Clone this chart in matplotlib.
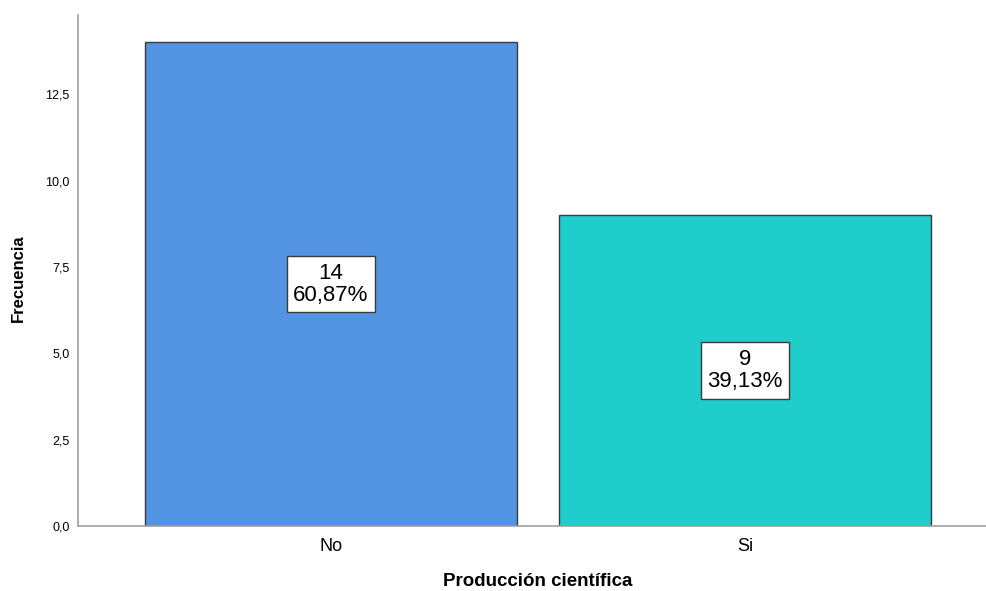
import matplotlib
matplotlib.use("Agg")
import matplotlib.pyplot as plt

plt.rcParams["font.family"] = ["Liberation Sans", "DejaVu Sans"]

categories = ["No", "Si"]
counts = [14, 9]
percents = ["60,87%", "39,13%"]
bar_colors = ["#5294e2", "#1fcdcb"]
yticks = [0, 2.5, 5, 7.5, 10, 12.5]
ytick_labels = ["0,0", "2,5", "5,0", "7,5", "10,0", "12,5"]

fig = plt.figure(figsize=(9.87, 5.91), dpi=100)
ax = fig.add_axes([0.079, 0.110, 0.920, 0.8646])

x = list(range(len(categories)))
ax.bar(x, counts, width=0.9, color=bar_colors, edgecolor="#3a3a3a", linewidth=1.0)

for xi, c, p in zip(x, counts, percents):
    ax.text(xi, c / 2, f"{c}\n{p}", ha="center", va="center", fontsize=16,
            linespacing=1.05,
            bbox=dict(boxstyle="square,pad=0.3", facecolor="white",
                      edgecolor="#3a3a3a", linewidth=1.0))

ax.set_xlim(-0.611, 1.582)
ax.set_ylim(0, 14.79)
ax.set_xticks(x)
ax.set_xticklabels(categories, fontsize=13)
ax.set_yticks(yticks)
ax.set_yticklabels(ytick_labels, fontsize=9)
ax.tick_params(length=0, pad=6)
ax.tick_params(axis="x", pad=9)

for s in ["top", "right"]:
    ax.spines[s].set_visible(False)
for s in ["left", "bottom"]:
    ax.spines[s].set_color("#a0a0a0")
    ax.spines[s].set_linewidth(1.2)

ax.set_xlabel("Producción científica", fontsize=13.5, fontweight="bold")
ax.xaxis.label.set_va("center")
ax.xaxis.set_label_coords(0.506, -0.1096)
ax.set_ylabel("Frecuencia", fontsize=12, fontweight="bold")
ax.yaxis.label.set_va("center")
ax.yaxis.set_label_coords(-0.066, 0.485)

fig.savefig("out.png", dpi=100)
